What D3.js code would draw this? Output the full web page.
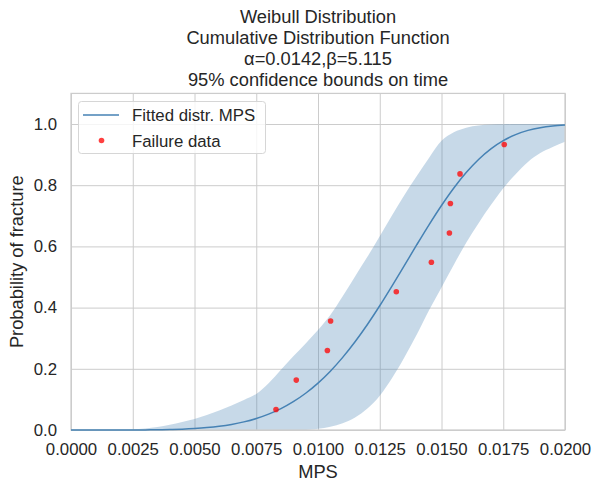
<!DOCTYPE html>
<html>
<head>
<meta charset="utf-8">
<script src="https://cdn.jsdelivr.net/npm/d3@7"></script>
<style>
  html, body { margin: 0; padding: 0; background: #ffffff; }
  svg { display: block; }
  text { font-family: "Liberation Sans", Arial, sans-serif; fill: #262626; }
</style>
</head>
<body>
<svg id="chart" width="601" height="490"></svg>
<script>
// ---- data ----
const titleLines = ["Weibull Distribution", "Cumulative Distribution Function", "α=0.0142,β=5.115", "95% confidence bounds on time"];
const xLabel = "MPS";
const yLabel = "Probability of fracture";
const xTicks = [0, 0.0025, 0.005, 0.0075, 0.01, 0.0125, 0.015, 0.0175, 0.02];
const yTicks = [0, 0.2, 0.4, 0.6, 0.8, 1.0];

// grid of x positions for fitted curve and bounds
const curveX = [0, 0.0005, 0.001, 0.0015, 0.002, 0.0025, 0.003, 0.0035, 0.004, 0.0045,
  0.005, 0.0055, 0.006, 0.0065, 0.007, 0.0075, 0.008, 0.0085, 0.009, 0.0095,
  0.010, 0.0105, 0.011, 0.0115, 0.012, 0.0125, 0.013, 0.0135, 0.014, 0.0145,
  0.015, 0.0155, 0.016, 0.0165, 0.017, 0.0175, 0.018, 0.0185, 0.019, 0.0195, 0.020];
const fittedY = [0, 0, 0, 0.00001, 0.00004, 0.00014, 0.00035, 0.00077, 0.00153, 0.0028,
  0.0048, 0.0078, 0.0121, 0.0182, 0.0265, 0.0375, 0.0518, 0.0699, 0.0925, 0.1201,
  0.1533, 0.1922, 0.2373, 0.2883, 0.3448, 0.4060, 0.4710, 0.5380, 0.6055, 0.6714,
  0.7338, 0.7910, 0.8414, 0.8842, 0.9188, 0.9456, 0.9654, 0.9791, 0.9881, 0.9937, 0.9969];
const upperY = [0, 0, 0, 0, 0.000, 0.002, 0.005, 0.010, 0.017, 0.026,
  0.036, 0.049, 0.064, 0.080, 0.098, 0.118, 0.153, 0.197, 0.241, 0.283,
  0.327, 0.376, 0.437, 0.502, 0.566, 0.633, 0.702, 0.768, 0.830, 0.890,
  0.945, 0.973, 0.988, 0.995, 0.998, 0.999, 1.0, 1.0, 1.0, 1.0, 1.0];
const lowerY = [0, 0, 0, 0, 0, 0, 0, 0, 0, 0,
  0, 0, 0, 0, 0, 0, 0, 0, 0, 0.000,
  0.004, 0.011, 0.022, 0.041, 0.070, 0.112, 0.170, 0.238, 0.312, 0.392,
  0.466, 0.540, 0.612, 0.676, 0.735, 0.790, 0.836, 0.876, 0.905, 0.925, 0.942];

const failX = [0.0083, 0.00912, 0.01038, 0.01051, 0.01317, 0.01459, 0.01532, 0.01536, 0.01575, 0.01754];
const failY = [0.067, 0.163, 0.260, 0.356, 0.452, 0.548, 0.644, 0.740, 0.837, 0.933];

const legendLabels = ["Fitted distr. MPS", "Failure data"];

// ---- layout ----
const svg = d3.select("#chart");
const pLeft = 71, pRight = 565, pTop = 93.4, pBottom = 430;
const x = d3.scaleLinear().domain([0, 0.02]).range([pLeft, pRight]);
const y = d3.scaleLinear().domain([0, 1.1]).range([pBottom, pTop]);

const lineColor = "#4682b4";
const gridColor = "#cccccc";

// grid
const gx = svg.append("g").attr("transform", `translate(0,${pBottom})`)
  .call(d3.axisBottom(x).tickValues(xTicks).tickFormat(d3.format(".4f")).tickSize(-(pBottom - pTop)).tickPadding(13));
const gy = svg.append("g").attr("transform", `translate(${pLeft},0)`)
  .call(d3.axisLeft(y).tickValues(yTicks).tickFormat(d3.format(".1f")).tickSize(-(pRight - pLeft)).tickPadding(14));
[gx, gy].forEach(g => {
  g.select(".domain").remove();
  g.selectAll(".tick line").attr("stroke", gridColor).attr("stroke-width", 1);
  g.selectAll(".tick text").attr("fill", "#262626").style("font-size", "16.8px")
    .style("font-family", '"Liberation Sans", Arial, sans-serif');
});
gx.selectAll(".tick text").attr("dy", "0.71em");

const pts = curveX.map((d, i) => ({x: d, f: fittedY[i], lo: lowerY[i], hi: upperY[i]}));

// clip
svg.append("clipPath").attr("id", "clip").append("rect")
  .attr("x", pLeft).attr("y", pTop).attr("width", pRight - pLeft).attr("height", pBottom - pTop);

// band
svg.append("path").datum(pts)
  .attr("clip-path", "url(#clip)")
  .attr("fill", lineColor).attr("fill-opacity", 0.3)
  .attr("d", d3.area().x(d => x(d.x)).y0(d => y(d.lo)).y1(d => y(d.hi)).curve(d3.curveMonotoneX));

// spines
svg.append("rect").attr("x", pLeft).attr("y", pTop).attr("width", pRight - pLeft).attr("height", pBottom - pTop)
  .attr("fill", "none").attr("stroke", gridColor).attr("stroke-width", 1.25);

// fitted line
svg.append("path").datum(pts)
  .attr("fill", "none").attr("stroke", lineColor).attr("stroke-width", 1.5)
  .attr("d", d3.line().x(d => x(d.x)).y(d => y(d.f)).curve(d3.curveMonotoneX));

// failure points
svg.append("g").selectAll("circle").data(failX.map((d, i) => ({x: d, y: failY[i]})))
  .join("circle")
  .attr("cx", d => x(d.x)).attr("cy", d => y(d.y)).attr("r", 2.8)
  .attr("fill", "#ff0000").attr("fill-opacity", 0.75);

// title
svg.append("g").selectAll("text").data(titleLines).join("text")
  .attr("x", (pLeft + pRight) / 2).attr("y", (d, i) => 22.5 + i * 21)
  .attr("text-anchor", "middle").style("font-size", "18.3px").text(d => d);

// axis labels
svg.append("text").attr("x", (pLeft + pRight) / 2).attr("y", 478)
  .attr("text-anchor", "middle").style("font-size", "18.3px").text(xLabel);
svg.append("text").attr("transform", `translate(23,${(pTop + pBottom) / 2}) rotate(-90)`)
  .attr("text-anchor", "middle").style("font-size", "18.3px").text(yLabel);

// legend
const lg = svg.append("g");
lg.append("rect").attr("x", 78.5).attr("y", 101.5).attr("width", 187).attr("height", 52).attr("rx", 3)
  .attr("fill", "#ffffff").attr("fill-opacity", 0.8).attr("stroke", "#d6d6d6").attr("stroke-width", 1);
lg.append("line").attr("x1", 83).attr("x2", 119).attr("y1", 115).attr("y2", 115)
  .attr("stroke", lineColor).attr("stroke-width", 1.5);
lg.append("circle").attr("cx", 101.5).attr("cy", 140.5).attr("r", 2.8)
  .attr("fill", "#ff0000").attr("fill-opacity", 0.75);
lg.selectAll("text.lab").data(legendLabels).join("text").attr("class", "lab")
  .attr("x", 132).attr("y", (d, i) => 121 + i * 26)
  .style("font-size", "16.8px").text(d => d);
</script>
</body>
</html>
